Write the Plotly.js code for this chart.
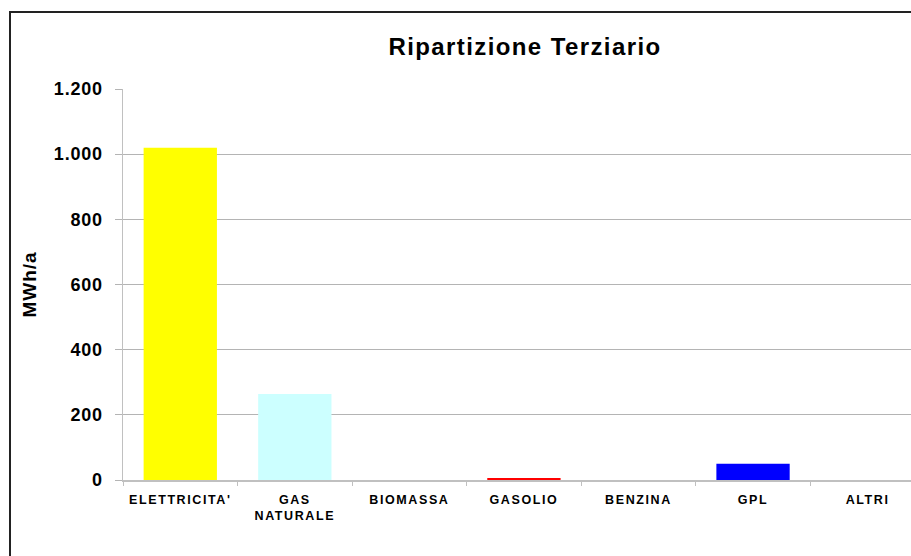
<!DOCTYPE html>
<html>
<head>
<meta charset="utf-8">
<script src="https://cdn.plot.ly/plotly-3.0.1.min.js"></script>
<style>
  html, body { margin: 0; padding: 0; background: #fff; }
  #chart { width: 911px; height: 556px; }
  .gtitle { letter-spacing: 1.4px; }
  .ytitle { letter-spacing: 1px; }
  .xtick text { letter-spacing: 1.6px; }
  .ytick text { letter-spacing: 0.8px; }
</style>
</head>
<body>
<div id="chart"></div>
<script>
const categories = ["ELETTRICITA'", "GAS<br>NATURALE", "BIOMASSA", "GASOLIO", "BENZINA", "GPL", "ALTRI"];
const valuesMWh = [1020, 264, 0, 6, 0, 50, 0];
const yTickValues = [0, 200, 400, 600, 800, 1000, 1200];

const barColors = ["#FFFF00", "#CCFFFF", "#993366", "#FF0000", "#808080", "#0000FF", "#00FF00"];
const FONT = "'Liberation Sans', Arial, sans-serif";

const trace = {
  type: "bar",
  x: categories,
  y: valuesMWh,
  marker: { color: barColors, line: { width: 0 } },
  hoverinfo: "x+y"
};

const layout = {
  width: 911,
  height: 556,
  margin: { l: 123, r: 0, t: 89, b: 76, autoexpand: false },
  paper_bgcolor: "#ffffff",
  plot_bgcolor: "#ffffff",
  separators: ",.",
  showlegend: false,
  bargap: 0.36,
  font: { family: FONT, color: "#000000" },
  title: {
    text: "Ripartizione Terziario",
    font: { family: FONT, size: 24, weight: "bold", color: "#000000" },
    xref: "container", x: 525 / 911, xanchor: "center",
    yref: "container", y: 1 - 46.5 / 556, yanchor: "middle"
  },
  xaxis: {
    type: "category",
    range: [-0.5, 6.379],
    showgrid: false,
    showline: true,
    linecolor: "#c0c0c0",
    linewidth: 2,
    ticks: "outside",
    tickson: "boundaries",
    ticklen: 4,
    tickcolor: "#c0c0c0",
    tickwidth: 1,
    tickfont: { family: FONT, size: 12.5, weight: "bold", color: "#000000" },
    ticklabelstandoff: 7,
    fixedrange: true
  },
  yaxis: {
    range: [0, 1200],
    tickvals: yTickValues,
    tickformat: ",d",
    showgrid: true,
    gridcolor: "#b4b4b4",
    gridwidth: 1,
    zeroline: false,
    showline: true,
    linecolor: "#c0c0c0",
    linewidth: 1.5,
    ticks: "outside",
    ticklen: 7,
    tickcolor: "#b4b4b4",
    tickwidth: 1,
    ticklabelstandoff: 8,
    tickfont: { family: FONT, size: 18, weight: "bold", color: "#000000" },
    title: {
      text: "MWh/a",
      font: { family: FONT, size: 19, weight: "bold", color: "#000000" },
      standoff: 12
    },
    fixedrange: true
  },
  shapes: [{
    type: "rect",
    xref: "paper", yref: "paper",
    x0: (10 - 123) / 788, x1: (925 - 123) / 788,
    y0: -0.3, y1: (480 - 12) / 391,
    line: { color: "#222222", width: 2 },
    fillcolor: "rgba(0,0,0,0)",
    layer: "above"
  }]
};

Plotly.newPlot("chart", [trace], layout, { displayModeBar: false, staticPlot: true });
</script>
</body>
</html>
